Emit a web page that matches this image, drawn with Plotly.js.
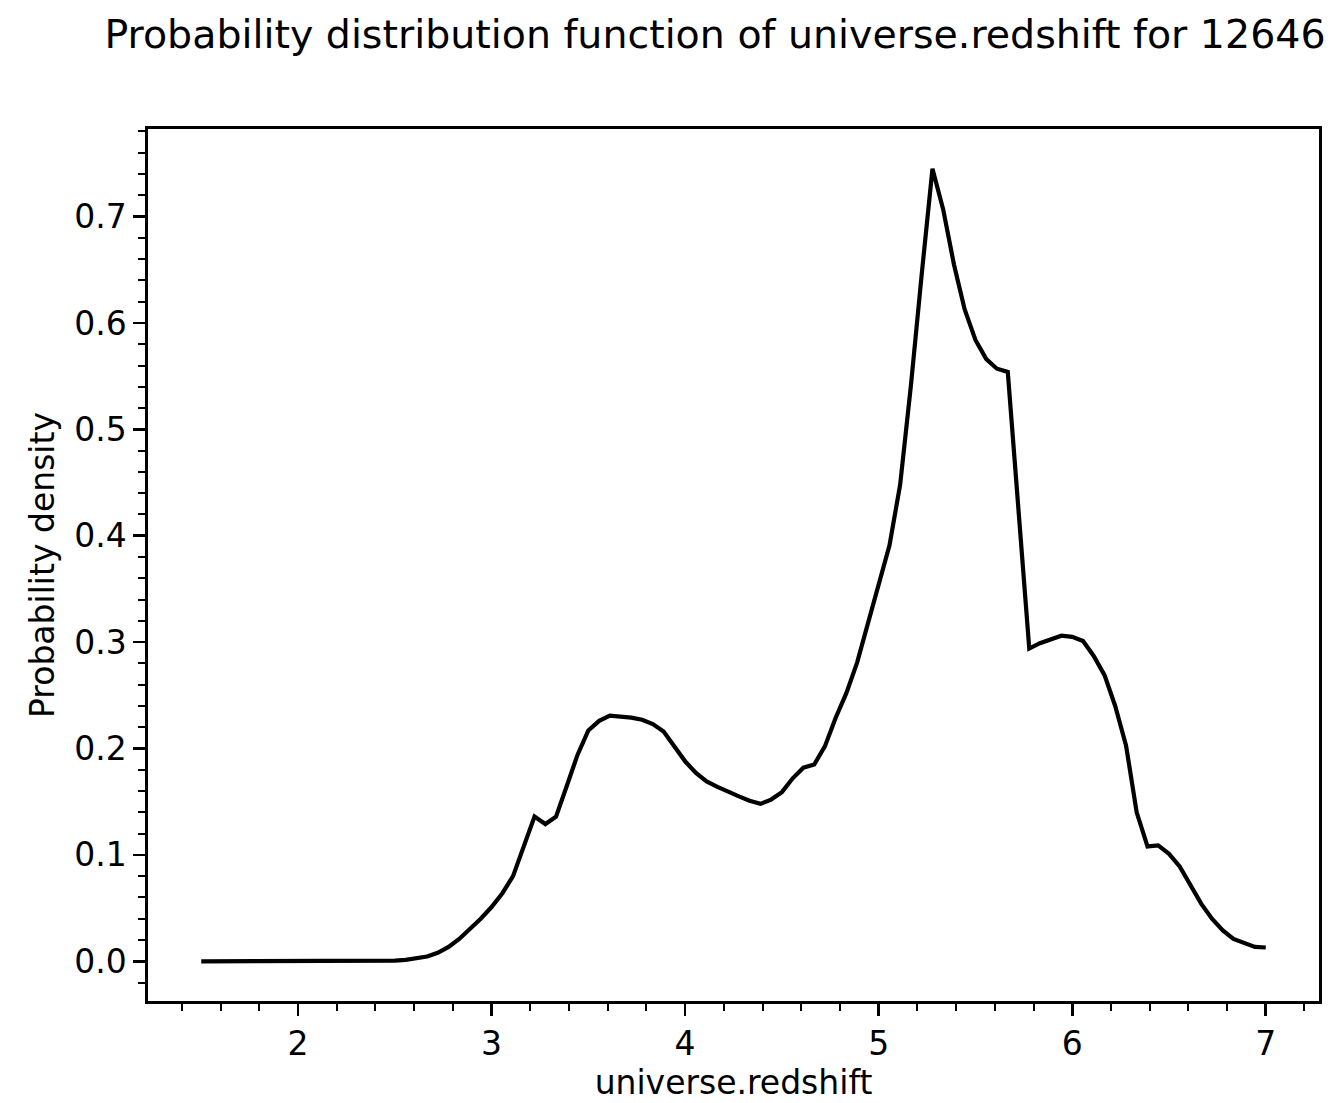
<!DOCTYPE html>
<html>
<head>
<meta charset="utf-8">
<script src="https://cdn.plot.ly/plotly-3.0.1.min.js"></script>
<style>html,body{margin:0;padding:0;background:#fff;}#chart{width:1332px;height:1103px;}</style>
</head>
<body>
<div id="chart"></div>
<script>
const redshift = [1.5,1.556,1.611,1.667,1.722,1.778,1.833,1.889,1.944,2.0,
  2.056,2.111,2.167,2.222,2.278,2.333,2.389,2.444,2.5,2.556,
  2.611,2.667,2.722,2.778,2.833,2.889,2.944,3.0,3.056,3.111,
  3.167,3.222,3.278,3.333,3.389,3.444,3.5,3.556,3.611,3.667,
  3.722,3.778,3.833,3.889,3.944,4.0,4.056,4.111,4.167,4.222,
  4.278,4.333,4.389,4.444,4.5,4.556,4.611,4.667,4.722,4.778,
  4.833,4.889,4.944,5.0,5.056,5.111,5.167,5.222,5.278,5.333,
  5.389,5.444,5.5,5.556,5.611,5.667,5.722,5.778,5.833,5.889,
  5.944,6.0,6.056,6.111,6.167,6.222,6.278,6.333,6.389,6.444,
  6.5,6.556,6.611,6.667,6.722,6.778,6.833,6.889,6.944,7.0];
const density = [0,0,0,0,0,0,0,0,0,0,
  0,0,0,0,0,0.0001,0.0002,0.0004,0.0007,0.0013,
  0.0025,0.0045,0.008,0.0135,0.021,0.030,0.040,0.051,0.064,0.080,
  0.107,0.136,0.129,0.136,0.165,0.194,0.217,0.226,0.231,0.230,
  0.229,0.227,0.223,0.216,0.202,0.188,0.177,0.169,0.164,0.159,
  0.155,0.151,0.148,0.152,0.159,0.172,0.182,0.185,0.202,0.229,
  0.252,0.281,0.318,0.354,0.391,0.448,0.542,0.645,0.745,0.707,
  0.655,0.613,0.584,0.566,0.557,0.554,0.424,0.294,0.299,0.303,
  0.306,0.305,0.301,0.287,0.269,0.240,0.203,0.140,0.108,0.109,
  0.101,0.089,0.072,0.054,0.040,0.029,0.021,0.017,0.0135,0.013];
const xTicks = [2,3,4,5,6,7];
const yTicks = [0.0,0.1,0.2,0.3,0.4,0.5,0.6,0.7];
const titleText = "Probability distribution function of universe.redshift for 12646";
const xLabel = "universe.redshift";
const yLabel = "Probability density";

const font = "DejaVu Sans, sans-serif";
const trace = {
  x: redshift, y: density, type: "scatter", mode: "lines",
  line: {color: "#000", width: 4.2}, hoverinfo: "skip"
};
const axisCommon = {
  showline: true, mirror: true, linecolor: "#000", linewidth: 2.6,
  ticks: "outside", ticklen: 12, tickwidth: 2.6, tickcolor: "#000",
  showgrid: false, zeroline: false,
  tickfont: {family: font, size: 33, color: "#000"}
};
const layout = {
  width: 1332, height: 1103,
  margin: {l: 148, r: 13, t: 129, b: 102},
  paper_bgcolor: "#fff", plot_bgcolor: "#fff",
  showlegend: false,
  title: {text: titleText, font: {family: font, size: 39.5, color: "#000"},
    x: 715/1332, xanchor: "center", xref: "container",
    y: 1 - 34/1103, yanchor: "middle", yref: "container"},
  xaxis: Object.assign({}, axisCommon, {
    range: [1.225, 7.275], tickvals: xTicks, ticktext: xTicks.map(String),
    minor: {dtick: 0.2, tick0: 0, ticks: "outside", ticklen: 7, tickwidth: 2, tickcolor: "#000"},
    title: {text: xLabel, font: {family: font, size: 33, color: "#000"}, standoff: 4}
  }),
  yaxis: Object.assign({}, axisCommon, {
    range: [-0.0373, 0.7823], tickvals: yTicks, ticktext: yTicks.map(v => v.toFixed(1)),
    minor: {dtick: 0.02, tick0: 0, ticks: "outside", ticklen: 7, tickwidth: 2, tickcolor: "#000"},
    title: {text: yLabel, font: {family: font, size: 33, color: "#000"}, standoff: 10}
  })
};
Plotly.newPlot("chart", [trace], layout, {staticPlot: true, displayModeBar: false});
</script>
</body>
</html>
